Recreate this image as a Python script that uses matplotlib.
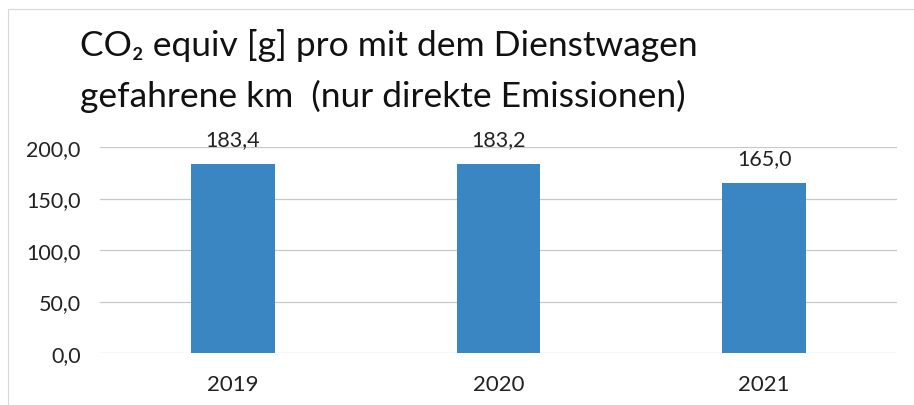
import numpy as np
import matplotlib
matplotlib.use("Agg")
import matplotlib.pyplot as plt
from matplotlib.patches import Rectangle

years = ["2019", "2020", "2021"]
values = [183.4, 183.2, 165.0]
yticks = [0, 50, 100, 150, 200]

plt.rcParams.update({'font.family': ['Lato', 'DejaVu Sans']})

fig = plt.figure(figsize=(9.14, 4.06), dpi=100)
ax = fig.add_axes([100/914, 1-354/406, 797/914, 206/406])

x = np.arange(len(years))
ax.bar(x, values, width=0.316, color="#3a86c2", zorder=3)
for xi, v in zip(x, values):
    ax.text(xi, v + 15, ("%.1f" % v).replace(".", ","), ha="center", va="bottom",
            fontsize=15.5, color="#222222")

ax.set_xlim(-0.5, 2.5)
ax.set_ylim(0, 200)
ax.set_yticks(yticks)
ax.set_yticklabels([("%.1f" % t).replace(".", ",") for t in yticks], fontsize=15.5, color="#222222")
ax.set_xticks(x)
ax.set_xticklabels(years, fontsize=16, color="#222222")
ax.tick_params(axis="both", length=0)
ax.tick_params(axis="x", pad=15)
ax.tick_params(axis="y", pad=14)
ax.grid(axis="y", color="#c8c8c8", lw=0.9, zorder=0)
for s in ax.spines.values():
    s.set_visible(False)

fig.text(80/914, 1-46/406, "CO₂ equiv [g] pro mit dem Dienstwagen", fontsize=25.5,
         ha="left", va="center", color="#111111")
fig.text(80/914, 1-96/406, "gefahrene km  (nur direkte Emissionen)", fontsize=25.5,
         ha="left", va="center", color="#111111")

# faint chart frame
fig.patches.append(Rectangle((8/914, -0.05), 1.2, 1-10/406+0.05, transform=fig.transFigure,
                             fill=False, edgecolor="#d8d8d8", lw=0.8))

fig.savefig("out.png", dpi=100)
plt.close(fig)
